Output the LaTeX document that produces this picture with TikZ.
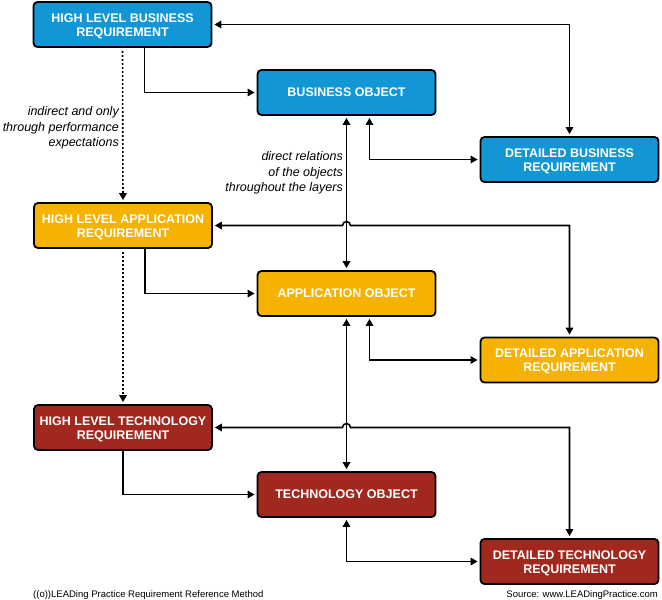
\documentclass[tikz,border=0pt]{standalone}
\usepackage{fontspec}
\setmainfont{Liberation Sans}
\usetikzlibrary{arrows.meta}
\definecolor{bizblue}{RGB}{18,150,214}
\definecolor{appyellow}{RGB}{245,178,0}
\definecolor{techred}{RGB}{160,40,30}
\tikzset{
  box/.style={draw=black, line width=1.8pt, rounded corners=4pt, text=white,
    font=\fontsize{12.5}{14}\selectfont\bfseries, align=center,
    minimum width=178pt, minimum height=45pt, inner sep=0pt},
  twoline/.style={text height=23pt, text depth=0pt},
  biz/.style={box, fill=bizblue},
  app/.style={box, fill=appyellow},
  tech/.style={box, fill=techred},
  conn/.style={line width=1.6pt, -{Triangle[length=7pt,width=7.5pt]}, shorten >=2pt},
  bconn/.style={line width=1.6pt, {Triangle[length=7pt,width=7.5pt]}-{Triangle[length=7pt,width=7.5pt]}, shorten >=2pt, shorten <=2pt},
  dotconn/.style={line width=1.6pt, dash pattern=on 2pt off 2pt, -{Triangle[length=7pt,width=7.5pt]}, shorten >=2pt, shorten <=3pt},
  note/.style={font=\fontsize{12.5}{15.7}\selectfont\itshape, align=right, inner sep=0pt},
  foot/.style={font=\fontsize{9.5}{10}\selectfont, inner sep=0pt}
}
\begin{document}
\begin{tikzpicture}[x=1pt,y=-1pt]
\useasboundingbox (0,0) rectangle (662,600);
% nodes
\node[biz, twoline] (hlbr) at (122.5,24.5) {HIGH LEVEL BUSINESS\\REQUIREMENT};
\node[biz] (bo) at (346.5,92.5) {BUSINESS OBJECT};
\node[biz, twoline] (dbr) at (569.5,159.5) {DETAILED BUSINESS\\REQUIREMENT};
\node[app, twoline] (hlar) at (123,225.5) {HIGH LEVEL APPLICATION\\REQUIREMENT};
\node[app] (ao) at (346.5,293.5) {APPLICATION OBJECT};
\node[app, twoline] (dar) at (569.5,360) {DETAILED APPLICATION\\REQUIREMENT};
\node[tech, twoline] (hltr) at (123,427.5) {HIGH LEVEL TECHNOLOGY\\REQUIREMENT};
\node[tech] (to) at (346.5,494.5) {TECHNOLOGY OBJECT};
\node[tech, twoline] (dtr) at (569.5,561.5) {DETAILED TECHNOLOGY\\REQUIREMENT};
% labels
\node[note, anchor=east] (lab1) at (119,128) {indirect and only\\through performance\\expectations};
\node[note, anchor=east] (lab2) at (343,173) {direct relations\\of the objects\\throughout the layers};
\node[foot, anchor=base west] (foot1) at (33,597) {((o))LEADing Practice Requirement Reference Method};
\node[foot, anchor=base east] (foot2) at (658,597) {Source: www.LEADingPractice.com};
% business layer
\draw[bconn] (hlbr.east) -- (hlbr.east -| dbr.north) -- (dbr.north);
\draw[conn] ([xshift=22pt]hlbr.south) |- (bo.west);
\draw[dotconn] (hlbr.south) -- (hlar.north);
\draw[bconn] (bo.south) -- (ao.north);
\draw[bconn] ([xshift=23pt]bo.south) |- (dbr.west);
% application layer
\coordinate (hopA) at (hlar.east -| bo.south);
\draw[bconn] (hlar.east) -- ([xshift=-4pt]hopA) arc[start angle=180, end angle=0, radius=4pt] -- (hlar.east -| dar.north) -- (dar.north);
\draw[conn] ([xshift=22pt]hlar.south) |- (ao.west);
\draw[dotconn] (hlar.south) -- (hltr.north);
\draw[bconn] (ao.south) -- (to.north);
\draw[bconn] ([xshift=23pt]ao.south) |- (dar.west);
% technology layer
\coordinate (hopT) at (hltr.east -| ao.south);
\draw[bconn] (hltr.east) -- ([xshift=-4pt]hopT) arc[start angle=180, end angle=0, radius=4pt] -- (hltr.east -| dtr.north) -- (dtr.north);
\draw[conn] (hltr.south) |- (to.west);
\draw[bconn] (to.south) |- (dtr.west);
\end{tikzpicture}
\end{document}
